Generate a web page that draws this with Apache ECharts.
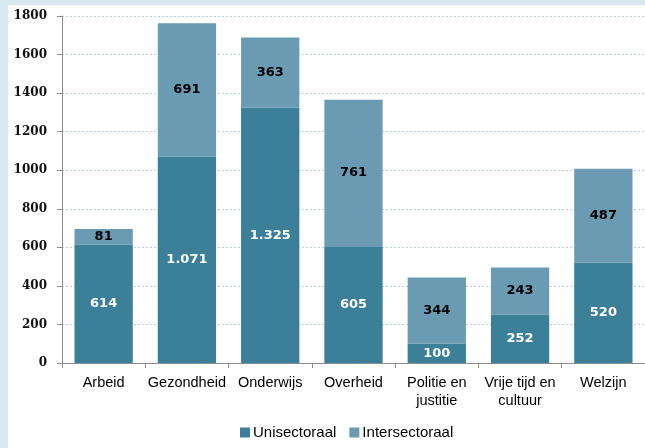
<!DOCTYPE html>
<html><head><meta charset="utf-8">
<script src="https://cdn.jsdelivr.net/npm/echarts@6/dist/echarts.min.js"></script>
<style>html,body{margin:0;padding:0;background:#d8e8f0;}#c{position:absolute;left:8px;top:5px;width:637px;height:443px;background:#fff;}</style>
</head><body><div id="c"></div>
<script>
const categories = ['Arbeid','Gezondheid','Onderwijs','Overheid','Politie en\njustitie','Vrije tijd en\ncultuur','Welzijn'];
const unisectoraal = [614,1071,1325,605,100,252,520];
const intersectoraal = [81,691,363,761,344,243,487];
const seriesNames = ['Unisectoraal','Intersectoraal'];
const fmt = v => String(v).replace(/\B(?=(\d{3})+(?!\d))/g,'.');
const chart = echarts.init(document.getElementById('c'));
const sans = 'Liberation Sans';
chart.setOption({
  animation:false,
  textStyle:{fontFamily:sans},
  grid:{left:54,right:0,top:11,bottom:85},
  legend:{bottom:3,left:227,itemWidth:10,itemHeight:10,itemGap:13,icon:'rect',
    textStyle:{fontFamily:sans,fontSize:15,color:'#000',padding:[0,0,0,-2]},data:seriesNames},
  xAxis:{type:'category',data:categories,
    axisLine:{lineStyle:{color:'#8c8c8c'}},
    axisTick:{show:true,length:5,lineStyle:{color:'#8c8c8c'}},
    axisLabel:{color:'#000',fontSize:14.5,fontFamily:sans,margin:11,lineHeight:18,interval:0}},
  yAxis:{type:'value',min:0,max:1800,interval:200,
    axisLine:{show:true,lineStyle:{color:'#8c8c8c'}},
    axisTick:{show:true,length:5,lineStyle:{color:'#8c8c8c'}},
    axisLabel:{color:'#111',fontSize:12,fontWeight:'bold',fontFamily:'DejaVu Serif',margin:15,padding:[3,0,0,0],formatter:v=>String(v)},
    splitLine:{lineStyle:{color:'#b7d0ea',type:[2,2],width:1}}},
  series:[
    {name:seriesNames[0],type:'bar',stack:'a',data:unisectoraal,barWidth:'70%',
     itemStyle:{color:'#3b7f99'},
     label:{show:true,position:'inside',color:'#fff',fontWeight:'bold',fontSize:13,fontFamily:'DejaVu Sans',formatter:p=>fmt(p.value)}},
    {name:seriesNames[1],type:'bar',stack:'a',data:intersectoraal,barWidth:'70%',
     itemStyle:{color:'#6a9bb2'},
     label:{show:true,position:'inside',color:'#000',fontWeight:'bold',fontSize:13,fontFamily:'DejaVu Sans',formatter:p=>fmt(p.value)}}
  ]
});
</script></body></html>
